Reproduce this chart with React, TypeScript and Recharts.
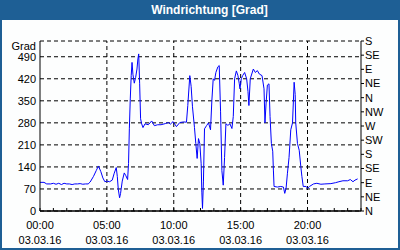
import { LineChart, Line, XAxis, YAxis, CartesianGrid, ReferenceLine } from "recharts";

// Stunden ab 00:00 (03.03.16)
const hours = [
  0.0, 0.3, 0.5, 0.8, 1.0, 1.2, 1.4, 1.6, 1.8, 2.0, 2.2, 2.4, 2.6, 2.8, 3.0, 3.2, 3.4, 3.6, 3.75, 4.0,
  4.2, 4.37, 4.55, 4.7, 4.85, 5.0, 5.2, 5.4, 5.55, 5.7, 5.78, 5.85, 5.95, 6.02, 6.15, 6.3, 6.42, 6.55, 6.62, 6.68,
  6.75, 6.82, 6.88, 6.95, 7.05, 7.15, 7.25, 7.32, 7.38, 7.45, 7.52, 7.6, 7.7, 7.85, 8.1, 8.35, 8.55, 8.8, 9.05, 9.4,
  9.6, 9.75, 9.95, 10.2, 10.45, 10.75, 10.95, 11.05, 11.2, 11.3, 11.4, 11.55, 11.65, 11.75, 11.85, 11.95, 12.05, 12.1, 12.15, 12.22,
  12.3, 12.45, 12.6, 12.75, 12.85, 12.95, 13.05, 13.15, 13.3, 13.4, 13.5, 13.6, 13.7, 13.8, 13.9, 14.05, 14.2, 14.35, 14.45, 14.55,
  14.68, 14.8, 14.9, 14.95, 15.05, 15.15, 15.3, 15.45, 15.55, 15.62, 15.72, 15.95, 16.1, 16.25, 16.4, 16.6, 16.75, 16.82, 16.9, 17.0,
  17.12, 17.2, 17.3, 17.4, 17.45, 17.5, 17.75, 18.0, 18.2, 18.3, 18.4, 18.5, 18.62, 18.75, 18.88, 19.0, 19.08, 19.12, 19.25, 19.38,
  19.5, 19.58, 19.68, 19.9, 20.0, 20.15, 20.45, 20.7, 21.0, 21.3, 21.75, 22.1, 22.35, 22.65, 23.0, 23.2, 23.4, 23.55, 23.75,
];

// Windrichtung in Grad
const direction = [
  91, 91, 86, 86, 88, 85, 88, 84, 88, 86, 86, 84, 86, 86, 87, 85, 86, 86, 92, 110,
  128, 143, 125, 105, 93, 95, 93, 98, 120, 138, 110, 70, 42, 55, 95, 121, 112, 100, 151, 261,
  356, 430, 472, 433, 406, 424, 451, 483, 499, 404, 293, 277, 265, 277, 274, 286, 271, 274, 274, 278,
  281, 276, 284, 268, 281, 283, 282, 335, 430, 396, 331, 265, 214, 167, 230, 214, 150, 60, 8, 95,
  261, 271, 280, 258, 351, 420, 415, 440, 458, 462, 315, 128, 82, 170, 277, 272, 277, 262, 300, 420,
  445, 430, 404, 388, 420, 430, 440, 420, 380, 335, 420, 451, 440, 446, 435, 430, 388, 280, 340, 400,
  404, 300, 214, 190, 130, 78, 76, 78, 76, 56, 73, 120, 170, 258, 280, 409, 370, 280, 214, 193,
  141, 110, 78, 78, 72, 78, 86, 88, 85, 86, 87, 90, 93, 96, 96, 100, 93, 98, 102,
];

const gradTicks = [0, 70, 140, 210, 280, 350, 420, 490, 540];
const compassTicks = [0, 45, 90, 135, 180, 225, 270, 315, 360, 405, 450, 495, 540];
const compassNames = ["N", "NE", "E", "SE", "S", "SW", "W", "NW", "N", "NE", "E", "SE", "S"];
const hourTicks = [0, 1, 2, 3, 4, 5, 6, 7, 8, 9, 10, 11, 12, 13, 14, 15, 16, 17, 18, 19, 20, 21, 22, 23, 24];
const labelledHours = [0, 5, 10, 15, 20];
const timeLabels = ["00:00", "05:00", "10:00", "15:00", "20:00"];
const dateLabel = "03.03.16";

const data = hours.map((t, i) => ({ t, v: direction[i] }));

const FONT = "'Liberation Sans', Arial, sans-serif";
const FRAME = "#1e5f95";

function HourTick(props: any) {
  const { x, y, payload } = props;
  const i = labelledHours.indexOf(payload.value);
  if (i < 0) return null;
  return (
    <g fontFamily={FONT} fontSize={11} fill="#000">
      <text x={x} y={y + 19} textAnchor="middle">{timeLabels[i]}</text>
      <text x={x} y={y + 34} textAnchor="middle">{dateLabel}</text>
    </g>
  );
}

function GradTick(props: any) {
  const { x, y, payload } = props;
  const isUnit = payload.value === 540;
  return (
    <text x={x} y={isUnit ? y + 5 : y} dy="0.355em" textAnchor="end" fontFamily={FONT} fontSize={11} fill="#000">
      {isUnit ? "Grad" : payload.value}
    </text>
  );
}

function CompassTick(props: any) {
  const { x, y, payload } = props;
  return (
    <text x={x} y={y} dy="0.355em" textAnchor="start" fontFamily={FONT} fontSize={11} fill="#000">
      {compassNames[compassTicks.indexOf(payload.value)]}
    </text>
  );
}

export default function App() {
  return (
    <div style={{ position: "absolute", left: 0, top: 0, width: 400, height: 250, background: "#fdfefe" }}>
      <LineChart width={400} height={250} data={data} margin={{ top: 41, right: 0, bottom: 0, left: 0 }}>
        <CartesianGrid vertical={false} stroke="#000" strokeDasharray="4 3" />
        <XAxis
          dataKey="t"
          type="number"
          domain={[0, 24]}
          ticks={hourTicks}
          interval={0}
          height={39}
          tickSize={-3}
          tick={<HourTick />}
          tickLine={{ stroke: "#000" }}
          axisLine={{ stroke: "#000" }}
        />
        <XAxis xAxisId="top" orientation="top" type="number" domain={[0, 24]} height={0} tick={false} tickLine={false} axisLine={{ stroke: "#000" }} />
        <YAxis
          type="number"
          domain={[0, 540]}
          ticks={gradTicks}
          interval={0}
          width={40}
          tickSize={0}
          tickMargin={4}
          tickLine={false}
          axisLine={{ stroke: "#000" }}
          tick={<GradTick />}
        />
        <YAxis
          yAxisId="right"
          orientation="right"
          type="number"
          domain={[0, 540]}
          allowDataOverflow
          ticks={compassTicks}
          interval={0}
          width={39}
          tickSize={3}
          tickMargin={1}
          tick={<CompassTick />}
          tickLine={{ stroke: "#000" }}
          axisLine={{ stroke: "#000" }}
        />
        {labelledHours.slice(1).map((h) => (
          <ReferenceLine key={h} x={h} stroke="#000" strokeDasharray="4 3" />
        ))}
        <ReferenceLine yAxisId="right" y={0} stroke="#000" />
        <Line type="linear" dataKey="v" stroke="#0000ff" strokeWidth={1} dot={false} isAnimationActive={false} />
      </LineChart>
      <div
        style={{
          position: "absolute",
          left: 0,
          top: 0,
          width: 400,
          height: 20,
          background: FRAME,
          color: "#fff",
          fontFamily: FONT,
          fontWeight: "bold",
          fontSize: 12,
          lineHeight: "20px",
          textAlign: "center",
          paddingLeft: 19,
          boxSizing: "border-box",
        }}
      >
        Windrichtung [Grad]
      </div>
      <div
        style={{
          position: "absolute",
          left: 0,
          top: 0,
          width: 400,
          height: 250,
          border: `2px solid ${FRAME}`,
          boxSizing: "border-box",
          pointerEvents: "none",
        }}
      />
    </div>
  );
}
